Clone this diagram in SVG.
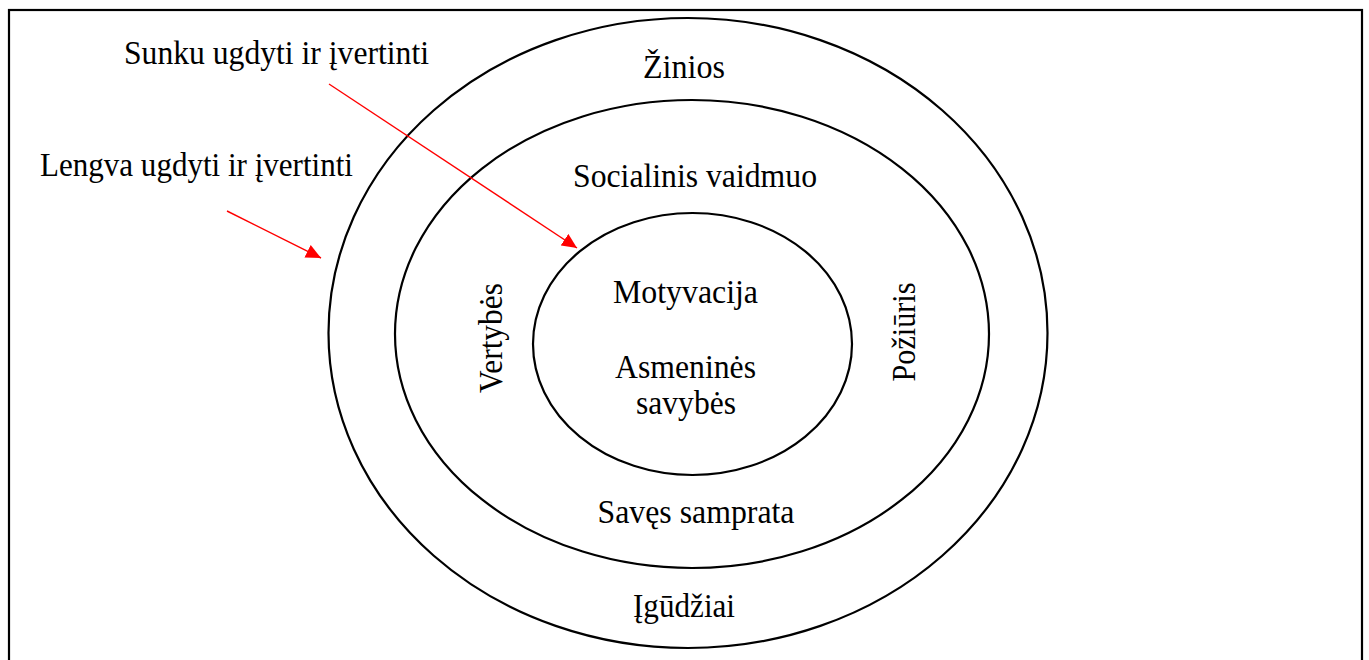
<svg xmlns="http://www.w3.org/2000/svg" width="1369" height="660" viewBox="0 0 1369 660">
<style>
.t{font-family:"Liberation Serif","Times New Roman",serif;font-size:34px;fill:#000}
.m{text-anchor:middle}
.ring{fill:none;stroke:#000;stroke-width:2.2}
.arr{stroke:#ff0000;stroke-width:1.4;fill:none}
</style>
<defs>
<marker id="ah" markerUnits="userSpaceOnUse" markerWidth="16" markerHeight="14" refX="15" refY="7" orient="auto">
<path d="M0,0 L15,7 L0,14 z" fill="#ff0000"/>
</marker>
</defs>
<rect width="1369" height="660" fill="#fff"/>
<rect x="9" y="10" width="1353" height="700" fill="none" stroke="#000" stroke-width="2.2"/>
<g id="outer">
<ellipse class="ring" cx="688" cy="333" rx="359.5" ry="315"/>
<text class="t m" x="684" y="78" textLength="82" lengthAdjust="spacingAndGlyphs">Žinios</text>
<text class="t m" x="684" y="617" textLength="102" lengthAdjust="spacingAndGlyphs">Įgūdžiai</text>
</g>
<g id="middle">
<ellipse class="ring" cx="692" cy="334" rx="297" ry="234"/>
<text class="t m" x="695" y="187" textLength="244" lengthAdjust="spacingAndGlyphs">Socialinis vaidmuo</text>
<text class="t m" x="696" y="523" textLength="197" lengthAdjust="spacingAndGlyphs">Savęs samprata</text>
<text class="t m" transform="translate(502,338) rotate(-90)" textLength="110" lengthAdjust="spacingAndGlyphs">Vertybės</text>
<text class="t m" transform="translate(915,332) rotate(-90)" textLength="99" lengthAdjust="spacingAndGlyphs">Požiūris</text>
</g>
<g id="inner">
<ellipse class="ring" cx="692.5" cy="344" rx="159.5" ry="131"/>
<text class="t m" x="685.5" y="303" textLength="145" lengthAdjust="spacingAndGlyphs">Motyvacija</text>
<text class="t m" x="685.5" y="378" textLength="141" lengthAdjust="spacingAndGlyphs">Asmeninės</text>
<text class="t m" x="686" y="414" textLength="100" lengthAdjust="spacingAndGlyphs">savybės</text>
</g>
<g id="label-hard">
<text class="t" x="124" y="64" textLength="305" lengthAdjust="spacingAndGlyphs">Sunku ugdyti ir įvertinti</text>
</g>
<g id="label-easy">
<text class="t" x="40" y="176" textLength="313" lengthAdjust="spacingAndGlyphs">Lengva ugdyti ir įvertinti</text>
</g>
<g id="connectors">
<line class="arr" x1="329" y1="84" x2="577" y2="248" marker-end="url(#ah)"/>
<line class="arr" x1="227" y1="211" x2="321" y2="258" marker-end="url(#ah)"/>
</g>
</svg>
